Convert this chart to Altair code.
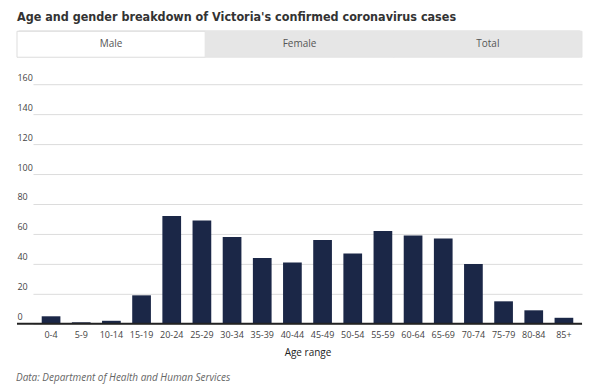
import altair as alt
import pandas as pd

age_ranges = ["0-4", "5-9", "10-14", "15-19", "20-24", "25-29", "30-34", "35-39",
              "40-44", "45-49", "50-54", "55-59", "60-64", "65-69", "70-74",
              "75-79", "80-84", "85+"]
male_cases = [5, 1, 2, 19, 72, 69, 58, 44, 41, 56, 47, 62, 59, 57, 40, 15, 9, 4]

tabs = ["Male", "Female", "Total"]
active_tab = "Male"

title_text = "Age and gender breakdown of Victoria's confirmed coronavirus cases"
source_text = "Data: Department of Health and Human Services"
x_title = "Age range"
y_ticks = [0, 20, 40, 60, 80, 100, 120, 140, 160]

W = 566
H = 240
FONT = "Open Sans"

df = pd.DataFrame({"age": age_ranges, "cases": male_cases})
tab_df = pd.DataFrame({"tab": tabs})

y_scale = alt.Scale(domain=[0, 160], nice=False)
y_axis = alt.Axis(values=y_ticks, domain=False, ticks=False, tickSize=0,
                  labelAlign="left", labelBaseline="alphabetic", labelPadding=0,
                  labelOffset=-4, labelFont=FONT, labelFontSize=9,
                  labelColor="#444", grid=True, gridColor="#dcdcdc",
                  gridWidth=1, title=None)

bars = alt.Chart(df).mark_bar(color="#1b2747").encode(
    x=alt.X("age:N", sort=age_ranges, title=x_title,
            scale=alt.Scale(range=[16, W], paddingInner=0.38, paddingOuter=0.29),
            axis=alt.Axis(domain=False, ticks=False, labelAngle=0, labelPadding=7,
                          labelFont=FONT, labelFontSize=9, labelColor="#444",
                          titleFont=FONT, titleFontSize=10, titleFontWeight="normal",
                          titleColor="#222", titlePadding=8, grid=False)),
    y=alt.Y("cases:Q", scale=y_scale, title=None, axis=y_axis),
)

baseline = alt.Chart(pd.DataFrame({"cases": [0]})).mark_rule(color="#222", strokeWidth=2).encode(
    y=alt.Y("cases:Q", scale=y_scale, title=None, axis=y_axis),
    x=alt.value(0), x2=alt.value(W),
)

tab_bg = alt.Chart(pd.DataFrame({"v": [0]})).mark_rect(
    color="#e6e6e6", cornerRadius=3).encode(
    x=alt.value(0), x2=alt.value(W), y=alt.value(-54), y2=alt.value(-27),
)

tab_rects = alt.Chart(tab_df).mark_rect().encode(
    x=alt.X("tab:N", sort=tabs, axis=None,
            scale=alt.Scale(range=[0, W], paddingInner=0, paddingOuter=0)),
    y=alt.value(-53), y2=alt.value(-27),
    color=alt.condition(alt.datum.tab == active_tab, alt.value("#ffffff"), alt.value("#e6e6e6")),
    stroke=alt.condition(alt.datum.tab == active_tab, alt.value("#dddddd"), alt.value("#e6e6e6")),
)

tab_labels = alt.Chart(tab_df).mark_text(font=FONT, fontSize=10, color="#555").encode(
    x=alt.X("tab:N", sort=tabs, axis=None,
            scale=alt.Scale(range=[0, W], paddingInner=0, paddingOuter=0)),
    y=alt.value(-40),
    text="tab:N",
)

title = alt.Chart(pd.DataFrame({"t": [title_text]})).mark_text(
    font="DejaVu Sans Condensed", fontSize=12.5, fontWeight="bold", color="#333",
    align="left", baseline="alphabetic").encode(
    x=alt.value(0), y=alt.value(-63), text="t:N",
)

source = alt.Chart(pd.DataFrame({"t": [source_text]})).mark_text(
    font=FONT, fontSize=10, fontStyle="italic", color="#666",
    align="left", baseline="alphabetic").encode(
    x=alt.value(-1), y=alt.value(H + 57), text="t:N",
)

chart = alt.layer(tab_bg, tab_rects, tab_labels, title, bars, baseline, source).resolve_scale(
    x="independent"
).properties(
    width=W, height=H,
    padding={"left": 9, "top": 76, "right": 10, "bottom": 60},
    autosize=alt.AutoSizeParams(type="none"),
).configure_view(stroke=None)

chart.save("out.html", embed_options={"renderer": "svg", "actions": False})
